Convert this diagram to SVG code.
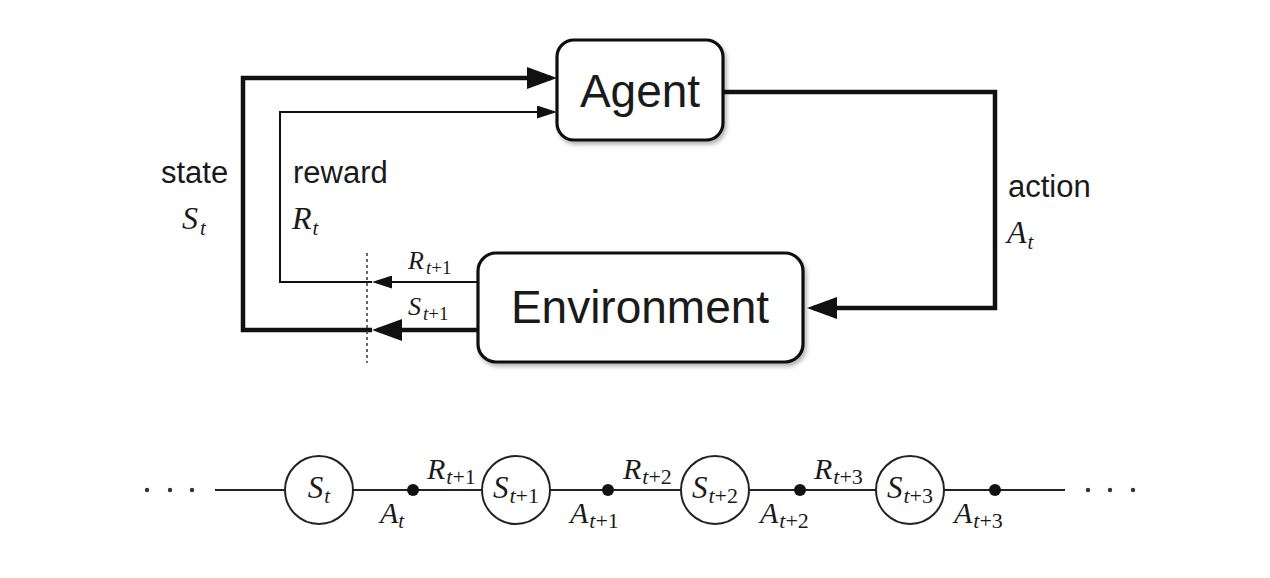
<svg xmlns="http://www.w3.org/2000/svg" width="1270" height="578" viewBox="0 0 1270 578">
<style>
  .box { fill: #fff; stroke: #111; stroke-width: 3.2; }
  .lbl { font-family: "Liberation Sans", Arial, sans-serif; fill: #1a1a1a; }
  .big { font-size: 46px; }
  .word { font-size: 31px; }
  .math { font-family: "Liberation Serif", "Times New Roman", serif; font-style: italic; fill: #1a1a1a; }
  .up { font-style: normal; }
  .thick { fill: none; stroke: #111; stroke-width: 4.5; }
  .thin { fill: none; stroke: #111; stroke-width: 2; }
  .dash { fill: none; stroke: #444; stroke-width: 1.6; stroke-dasharray: 3 3; }
  .chain { fill: none; stroke: #222; stroke-width: 2; }
  .state { fill: #fff; stroke: #222; stroke-width: 2; }
  .act { fill: #111; }
  .ell { fill: #333; }
</style>
<defs>
  <marker id="ahBig" markerUnits="userSpaceOnUse" viewBox="0 0 30 22" markerWidth="30" markerHeight="22" refX="24" refY="11" orient="auto">
    <path d="M0,0 L30,11 L0,22 z" fill="#111"/>
  </marker>
  <marker id="ahSmall" markerUnits="userSpaceOnUse" viewBox="0 0 20 13" markerWidth="20" markerHeight="13" refX="16" refY="6.5" orient="auto">
    <path d="M0,0 L20,6.5 L0,13 z" fill="#111"/>
  </marker>
  <filter id="sh" x="-10%" y="-10%" width="130%" height="130%">
    <feDropShadow dx="2" dy="3" stdDeviation="2" flood-color="#000" flood-opacity="0.3"/>
  </filter>
</defs>

<g id="connectors">
  <!-- state S_t loop -->
  <path class="thick" d="M478,330 L378,330" marker-end="url(#ahBig)"/>
  <path class="thick" d="M372,330 L243,330 L243,78 L551,78" marker-end="url(#ahBig)"/>
  <!-- reward R_t loop -->
  <path class="thin" d="M478,282 L376,282" marker-end="url(#ahSmall)"/>
  <path class="thin" d="M372,282 L280,282 L280,112 L553,112" marker-end="url(#ahSmall)"/>
  <!-- action -->
  <path class="thick" d="M723,92 L995,92 L995,308 L813,308" marker-end="url(#ahBig)"/>
  <!-- time step boundary -->
  <line class="dash" x1="367" y1="253" x2="367" y2="363"/>
  <!-- bottom trajectory line -->
  <line class="chain" x1="215" y1="490" x2="1065" y2="490"/>
</g>

<g id="agent">
  <rect class="box" x="557" y="40" width="166" height="100" rx="17" filter="url(#sh)"/>
  <text class="lbl big" x="640" y="107" text-anchor="middle">Agent</text>
</g>

<g id="environment">
  <rect class="box" x="478" y="253" width="325" height="109" rx="18" filter="url(#sh)"/>
  <text class="lbl big" x="640" y="323" text-anchor="middle">Environment</text>
</g>

<g id="labels">
  <text class="lbl word" x="161" y="183">state</text>
  <text class="math" x="182" y="229" font-size="32">S<tspan font-size="21" dx="2" dy="6">t</tspan></text>
  <text class="lbl word" x="293" y="183">reward</text>
  <text class="math" x="292" y="229" font-size="32">R<tspan font-size="21" dx="1" dy="6">t</tspan></text>
  <text class="lbl word" x="1008" y="197">action</text>
  <text class="math" x="1007" y="243" font-size="32">A<tspan font-size="21" dx="1" dy="6">t</tspan></text>
  <text class="math" x="408" y="269" font-size="26">R<tspan font-size="19" dx="2" dy="5">t</tspan><tspan class="up" font-size="19">+1</tspan></text>
  <text class="math" x="408" y="315" font-size="26">S<tspan font-size="19" dx="2" dy="5">t</tspan><tspan class="up" font-size="19">+1</tspan></text>
</g>

<g id="ellipsis-left">
  <circle class="ell" cx="147" cy="490" r="2.2"/>
  <circle class="ell" cx="170" cy="490" r="2.2"/>
  <circle class="ell" cx="192" cy="490" r="2.2"/>
</g>

<g id="state-t">
  <circle class="state" cx="319" cy="490" r="34"/>
  <text class="math" x="319" y="498" font-size="31" text-anchor="middle">S<tspan font-size="21" dx="1" dy="5">t</tspan></text>
</g>
<g id="action-t">
  <circle class="act" cx="413" cy="490" r="6"/>
  <text class="math" x="380" y="523" font-size="30">A<tspan font-size="21" dy="5">t</tspan></text>
  <text class="math" x="427" y="479" font-size="30">R<tspan font-size="22" dx="1" dy="5">t</tspan><tspan class="up" font-size="22">+1</tspan></text>
</g>

<g id="state-t1">
  <circle class="state" cx="516" cy="490" r="34"/>
  <text class="math" x="516" y="498" font-size="31" text-anchor="middle">S<tspan font-size="22" dx="1" dy="5">t</tspan><tspan class="up" font-size="22">+1</tspan></text>
</g>
<g id="action-t1">
  <circle class="act" cx="608" cy="490" r="6"/>
  <text class="math" x="570" y="523" font-size="30">A<tspan font-size="22" dx="1" dy="5">t</tspan><tspan class="up" font-size="22">+1</tspan></text>
  <text class="math" x="623" y="479" font-size="30">R<tspan font-size="22" dx="1" dy="5">t</tspan><tspan class="up" font-size="22">+2</tspan></text>
</g>

<g id="state-t2">
  <circle class="state" cx="715" cy="490" r="34"/>
  <text class="math" x="715" y="498" font-size="31" text-anchor="middle">S<tspan font-size="22" dx="1" dy="5">t</tspan><tspan class="up" font-size="22">+2</tspan></text>
</g>
<g id="action-t2">
  <circle class="act" cx="800" cy="490" r="6"/>
  <text class="math" x="760" y="523" font-size="30">A<tspan font-size="22" dx="1" dy="5">t</tspan><tspan class="up" font-size="22">+2</tspan></text>
  <text class="math" x="814" y="479" font-size="30">R<tspan font-size="22" dx="1" dy="5">t</tspan><tspan class="up" font-size="22">+3</tspan></text>
</g>

<g id="state-t3">
  <circle class="state" cx="910" cy="490" r="34"/>
  <text class="math" x="910" y="498" font-size="31" text-anchor="middle">S<tspan font-size="22" dx="1" dy="5">t</tspan><tspan class="up" font-size="22">+3</tspan></text>
</g>
<g id="action-t3">
  <circle class="act" cx="995" cy="490" r="6"/>
  <text class="math" x="954" y="523" font-size="30">A<tspan font-size="22" dx="1" dy="5">t</tspan><tspan class="up" font-size="22">+3</tspan></text>
</g>

<g id="ellipsis-right">
  <circle class="ell" cx="1088" cy="490" r="2.2"/>
  <circle class="ell" cx="1110" cy="490" r="2.2"/>
  <circle class="ell" cx="1133" cy="490" r="2.2"/>
</g>
</svg>
